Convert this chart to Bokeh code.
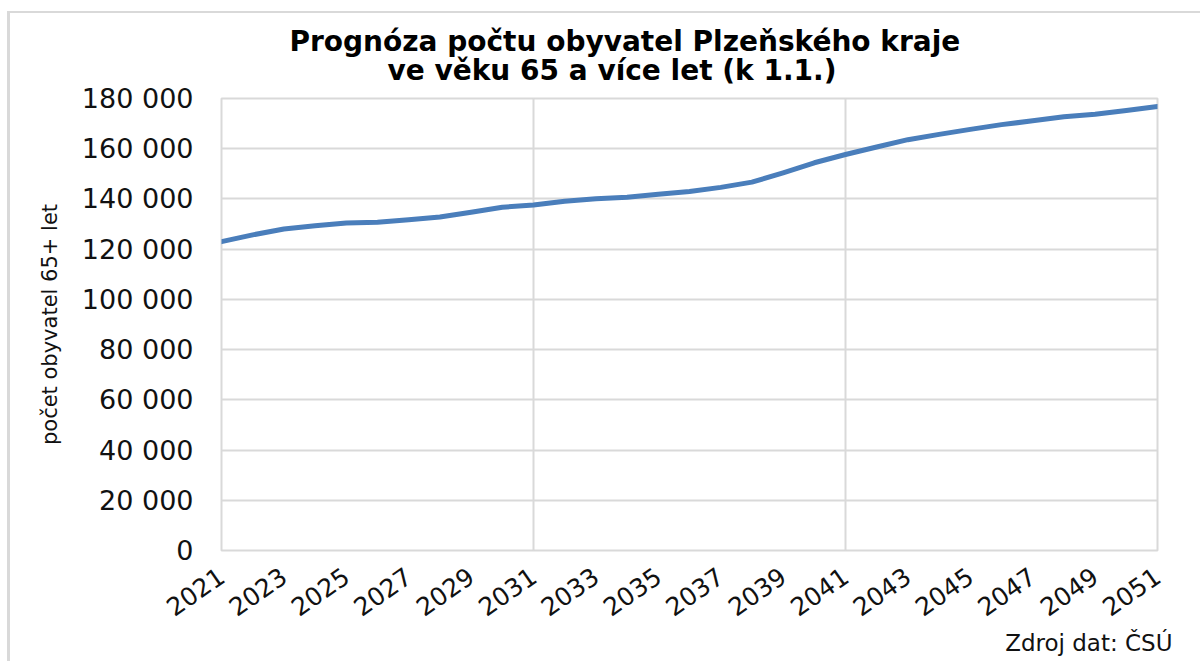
import math
from bokeh.plotting import figure
from bokeh.models import FixedTicker, Range1d, Title
from bokeh.embed import file_html
from bokeh.resources import INLINE

# ---- data ----
years = list(range(2021, 2052))
seniors = [123000, 125700, 128000, 129300, 130400, 130700, 131700, 132800,
           134700, 136700, 137600, 139100, 140100, 140700, 141900, 143000,
           144600, 146700, 150400, 154400, 157700, 160700, 163600, 165700,
           167700, 169600, 171100, 172700, 173700, 175200, 176800]

x_ticks = list(range(2021, 2052, 2))
x_tick_labels = [str(y) for y in x_ticks]
x_grid = [2021, 2031, 2041, 2051]
y_ticks = [0, 20000, 40000, 60000, 80000, 100000, 120000, 140000, 160000, 180000]
y_tick_labels = ["0", "20 000", "40 000", "60 000", "80 000", "100 000",
                 "120 000", "140 000", "160 000", "180 000"]

title_line1 = "Prognóza počtu obyvatel Plzeňského kraje"
title_line2 = "ve věku 65 a více let (k 1.1.)"
y_label = "počet obyvatel 65+ let"
source_text = "Zdroj dat: ČSÚ"

FONT = "DejaVu Sans"
GRID = "#d9d9d9"
TXT = "#111111"

p = figure(width=1193, height=650, output_backend="svg", toolbar_location=None,
           title=None,
           x_range=Range1d(2021, 2051), y_range=Range1d(0, 180000),
           min_border_left=211, min_border_right=46, min_border_top=85,
           min_border_bottom=113)
p.styles = {"margin-left": "7px", "margin-top": "11px",
            "border-left": f"3px solid {GRID}",
            "border-top": f"2px solid {GRID}"}
p.outline_line_color = GRID
p.outline_line_width = 2

p.line(years, seniors, line_color="#4a7ebb", line_width=5, line_join="round",
       line_cap="round")

p.xaxis.ticker = FixedTicker(ticks=x_ticks)
p.xaxis.major_label_overrides = dict(zip(x_ticks, x_tick_labels))
p.xaxis.major_label_orientation = math.radians(35)
p.yaxis.ticker = FixedTicker(ticks=y_ticks)
p.yaxis.major_label_overrides = dict(zip(y_ticks, y_tick_labels))
for ax in (p.xaxis[0], p.yaxis[0]):
    ax.axis_line_color = None
    ax.major_tick_line_color = None
    ax.minor_tick_line_color = None
    ax.major_tick_out = 0
    ax.major_tick_in = 0
    ax.major_label_text_font = FONT
    ax.major_label_text_color = TXT
p.xaxis.major_label_text_font_size = "25px"
p.yaxis.major_label_text_font_size = "27px"
p.xaxis.major_label_standoff = 23
p.yaxis.major_label_standoff = 28
p.yaxis.axis_label = y_label
p.yaxis.axis_label_text_font = FONT
p.yaxis.axis_label_text_font_size = "21px"
p.yaxis.axis_label_text_font_style = "normal"
p.yaxis.axis_label_text_color = TXT
p.yaxis.axis_label_standoff = 17

p.xgrid.ticker = FixedTicker(ticks=x_grid)
p.ygrid.ticker = FixedTicker(ticks=y_ticks)
for g in (p.xgrid[0], p.ygrid[0]):
    g.grid_line_color = GRID
    g.grid_line_width = 2

# two-line title: second line closest to the plot, first line above it
p.add_layout(Title(text=title_line2, align="left", offset=166,
                   vertical_align="bottom", standoff=23, text_font=FONT,
                   text_font_style="bold", text_font_size="28px",
                   text_color="#000000"), "above")
p.add_layout(Title(text=title_line1, align="left", offset=68,
                   vertical_align="bottom", standoff=-35, text_font=FONT,
                   text_font_style="bold", text_font_size="28px",
                   text_color="#000000"), "above")

p.add_layout(Title(text=source_text, align="right", offset=-15,
                   vertical_align="top", standoff=4, text_font=FONT,
                   text_font_style="normal", text_font_size="23px",
                   text_color=TXT), "below")

open("out.html", "w").write(file_html(p, INLINE))
